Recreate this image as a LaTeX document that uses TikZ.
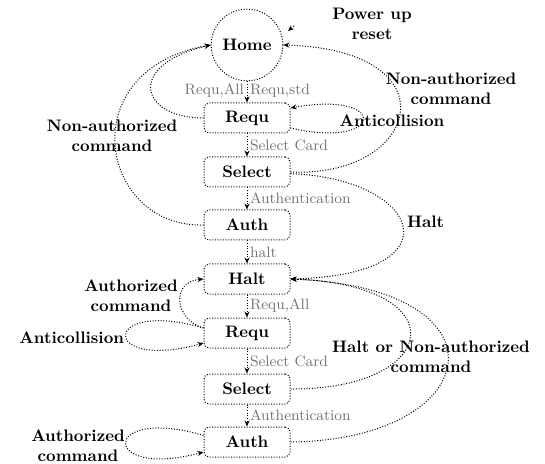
\documentclass[tikz,border=0pt]{standalone}
\usepackage{amsmath,amssymb}
\usetikzlibrary{arrows.meta,positioning}

\begin{document}
\begin{tikzpicture}[x=0.6pt,y=-0.6pt]
\tikzset{
  statebox/.style={draw,densely dotted,line width=0.6pt,rounded corners=3pt,minimum width=51.6pt,minimum height=18pt,inner sep=1pt,font=\bfseries},
  homenode/.style={circle,draw,densely dotted,line width=0.6pt,minimum size=43pt,inner sep=1pt,font=\bfseries},
  directed/.style={-{Stealth[length=3.6pt,width=3pt]},densely dotted,line width=0.6pt},
  edgelabel/.style={font=\bfseries,align=center,inner sep=1pt},
  minilabel/.style={font=\small,text=black!55,inner sep=1.5pt}
}
\useasboundingbox (0,0) rectangle (545,464);
% states
\node[homenode] (n_Home) at (247,45) {Home};
\node[statebox] (n_Requ1) at (247,118) {Requ};
\node[statebox] (n_Sel1) at (247,172) {Select};
\node[statebox] (n_Auth1) at (247,225) {Auth};
\node[statebox] (n_Halt) at (247,279) {Halt};
\node[statebox] (n_Requ2) at (247,333) {Requ};
\node[statebox] (n_Sel2) at (247,389) {Select};
\node[statebox] (n_Auth2) at (247,442) {Auth};
% labels
\node[edgelabel] (l_pwr) at (372,24) {Power up\\reset};
\node[edgelabel] (l_nac1) at (451,89) {Non-authorized\\command};
\node[edgelabel] (l_anti1) at (392,121) {Anticollision};
\node[edgelabel] (l_nac2) at (112,136) {Non-authorized\\command};
\node[edgelabel,anchor=west] (l_halt) at (405,222) {Halt};
\node[edgelabel] (l_auth1) at (131,296) {Authorized\\command};
\node[edgelabel,anchor=east] (l_anti2) at (126,338) {Anticollision};
\node[edgelabel] (l_nac3) at (431,357) {Halt or Non-authorized\\command};
\node[edgelabel] (l_auth2) at (78,446) {Authorized\\command};
% main chain
\draw[directed] (n_Home) -- node[minilabel,left,pos=0.45]{Requ,All} node[minilabel,right,pos=0.45]{Requ,std} (n_Requ1);
\draw[directed] (n_Requ1) -- node[minilabel,right]{Select Card} (n_Sel1);
\draw[directed] (n_Sel1) -- node[minilabel,right]{Authentication} (n_Auth1);
\draw[directed] (n_Auth1) -- node[minilabel,right]{halt} (n_Halt);
\draw[directed] (n_Halt) -- node[minilabel,right]{Requ,All} (n_Requ2);
\draw[directed] (n_Requ2) -- node[minilabel,right]{Select Card} (n_Sel2);
\draw[directed] (n_Sel2) -- node[minilabel,right]{Authentication} (n_Auth2);
% back to Home
\draw[directed] (n_Requ1.west) .. controls (140,118) and (125,65) .. (n_Home.west);
\draw[directed] (n_Auth1.west) .. controls (100,228) and (70,70) .. (n_Home.west);
\draw[directed] (n_Sel1.east) .. controls (420,178) and (455,50) .. (n_Home.east);
\draw[directed] ([yshift=-6pt]n_Requ1.east) .. controls (385,150) and (390,90) .. ([yshift=6pt]n_Requ1.east);
\coordinate (c_pwrA) at (294,26);
\coordinate (c_pwrB) at (288,31);
\draw[directed] (c_pwrA) -- (c_pwrB);
% to Halt
\draw[directed] ([yshift=-1pt]n_Sel1.east) .. controls (420,178) and (460,275) .. (n_Halt.east);
\draw[directed] ([yshift=3pt]n_Requ2.west) .. controls (175,320) and (170,282) .. (n_Halt.west);
\draw[directed] ([yshift=3pt]n_Requ2.west) .. controls (100,298) and (100,372) .. ([yshift=-6pt]n_Requ2.west);
\draw[directed] (n_Sel2.east) .. controls (440,390) and (460,285) .. (n_Halt.east);
\draw[directed] (n_Auth2.east) .. controls (485,440) and (515,288) .. (n_Halt.east);
\draw[directed] ([yshift=4pt]n_Auth2.west) .. controls (100,405) and (100,480) .. ([yshift=-6pt]n_Auth2.west);
\end{tikzpicture}
\end{document}
